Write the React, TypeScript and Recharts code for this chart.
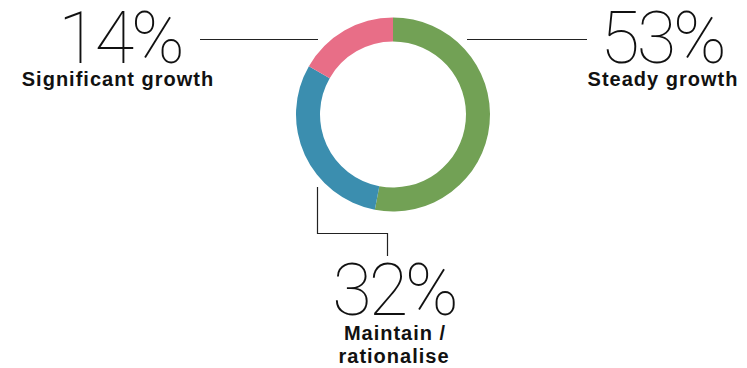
import React from "react";
import { PieChart, Pie, Cell, Customized } from "recharts";

const categories = ["Steady growth", "Maintain / rationalise", "Significant growth"];
const sliceValues = [53, 30.3, 16.7];
const percentLabels = ["53%", "32%", "14%"];
const colors = ["#72A155", "#3B8EAF", "#E86E87"];

const data = categories.map((name, i) => ({ name, value: sliceValues[i] }));

const W = 747;
const H = 368;
const BIG = { fontFamily: "Roboto", fontWeight: 100, fontSize: 72, letterSpacing: -3 } as const;
const SMALL = { fontFamily: "Liberation Sans, Arial, sans-serif", fontWeight: 700, fontSize: 20, letterSpacing: 1 } as const;

const Annotations = () => (
  <g>
    {/* leader lines */}
    <line x1={200} y1={39.5} x2={318} y2={39.5} stroke="#222" strokeWidth={1.2} />
    <line x1={467} y1={39.5} x2={587} y2={39.5} stroke="#222" strokeWidth={1.2} />
    <polyline points="317.5,187 317.5,233.5 387.5,233.5 387.5,256" fill="none" stroke="#222" strokeWidth={1.2} />

    <text x={120} y={63} textAnchor="middle" fill="#111" style={BIG}>{percentLabels[2]}</text>
    <text x={118} y={86} textAnchor="middle" fill="#111" style={SMALL}>{categories[2]}</text>

    <text x={662} y={63} textAnchor="middle" fill="#111" style={BIG}>{percentLabels[0]}</text>
    <text x={663} y={86} textAnchor="middle" fill="#111" style={SMALL}>{categories[0]}</text>

    <text x={394} y={315} textAnchor="middle" fill="#111" style={BIG}>{percentLabels[1]}</text>
    <text x={395} y={340} textAnchor="middle" fill="#111" style={SMALL}>Maintain /</text>
    <text x={394} y={363} textAnchor="middle" fill="#111" style={SMALL}>rationalise</text>
  </g>
);

export default function App() {
  return (
    <div style={{ position: "absolute", left: 0, top: 0, width: W, height: H, background: "#fff" }}>
      <PieChart width={W} height={H} margin={{ top: 0, right: 0, bottom: 0, left: 0 }}>
        <Pie
          data={data}
          dataKey="value"
          nameKey="name"
          cx={393}
          cy={114.5}
          innerRadius={73}
          outerRadius={97}
          startAngle={90}
          endAngle={-270}
          stroke="none"
          isAnimationActive={false}
        >
          {data.map((d, i) => (
            <Cell key={d.name} fill={colors[i]} />
          ))}
        </Pie>
        <Customized component={Annotations} />
      </PieChart>
    </div>
  );
}
